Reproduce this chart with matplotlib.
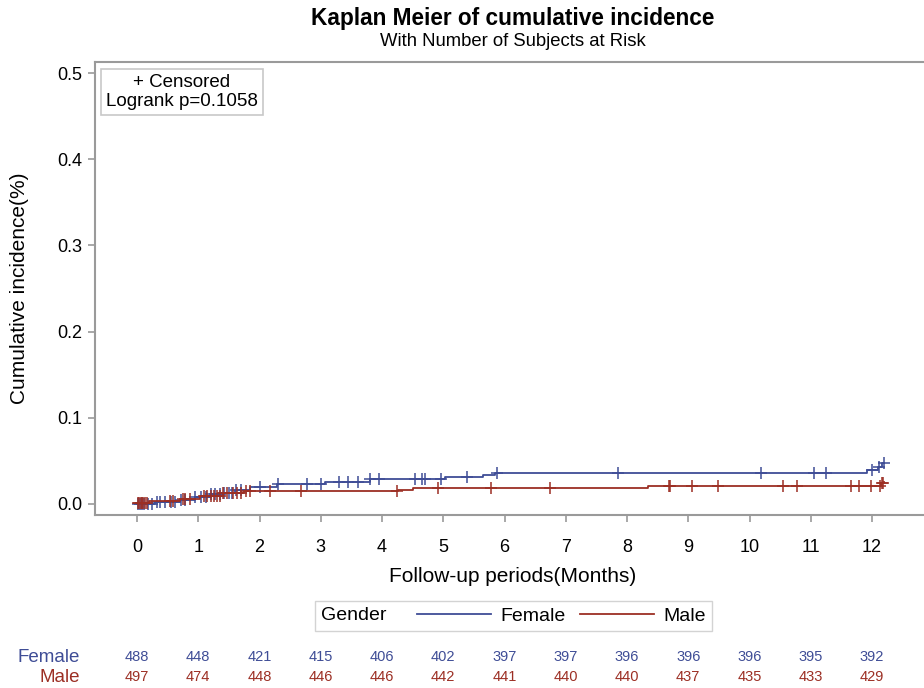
import numpy as np
import matplotlib.pyplot as plt
from matplotlib.lines import Line2D
from matplotlib.offsetbox import HPacker

plt.rcParams['font.family'] = ['Liberation Sans', 'DejaVu Sans']

# cumulative incidence step curves (time in months, value)
female_t = [0, 0.3, 0.7, 0.95, 1.2, 1.4, 1.6, 1.84, 2.29, 3.07, 3.8, 5.03, 5.65, 5.85, 11.92, 12.1, 12.17, 12.2]
female_y = [0, 0.002, 0.005, 0.008, 0.011, 0.013, 0.016, 0.0194, 0.023, 0.025, 0.0287, 0.0317, 0.034, 0.0365, 0.039, 0.043, 0.047, 0.047]
male_t = [0, 0.2, 0.7, 1.03, 1.4, 1.75, 4.26, 4.5, 8.34, 12.15, 12.19, 12.2]
male_y = [0.001, 0.003, 0.006, 0.0093, 0.013, 0.0148, 0.0165, 0.0186, 0.0213, 0.024, 0.026, 0.026]

# censored times
female_cens = [0.02, 0.05, 0.08, 0.12, 0.18, 0.25, 0.32, 0.38, 0.45, 0.55, 0.62, 0.72, 0.78,
               0.95, 1.05, 1.12, 1.2, 1.28, 1.35, 1.42, 1.5, 1.55, 1.62, 1.7,
               2.0, 2.3, 2.77, 3.0, 3.3, 3.45, 3.6, 3.8, 3.95,
               4.54, 4.65, 4.7, 4.97, 5.38, 5.87, 7.85, 10.19, 11.05, 11.25, 12.0, 12.11, 12.19]
male_cens = [0.02, 0.04, 0.06, 0.08, 0.1, 0.13, 0.16, 0.54, 0.59, 0.75, 0.78, 0.87,
             1.1, 1.15, 1.2, 1.25, 1.3, 1.35, 1.4, 1.47, 1.57, 1.63, 1.7, 1.78, 1.85,
             2.17, 2.68, 4.24, 4.91, 5.78, 6.75, 8.69, 8.71, 9.06, 9.49, 10.55, 10.78,
             11.66, 11.79, 11.99, 12.13, 12.16, 12.18]

# number at risk
risk_times = list(range(13))
female_risk = [488, 448, 421, 415, 406, 402, 397, 397, 396, 396, 396, 395, 392]
male_risk = [497, 474, 448, 446, 446, 442, 441, 440, 440, 437, 435, 433, 429]

blue = '#3f4d96'
red = '#9c2f24'
gray = '#9a9a9a'

fig = plt.figure(figsize=(9.24, 6.88), dpi=100)
ax = fig.add_axes([95 / 924, 1 - 515 / 688, 1 - 95 / 924, (515 - 62) / 688])


def at(ts, ys, c):
    i = np.searchsorted(ts, c, side='right') - 1
    return np.array(ys)[np.clip(i, 0, len(ys) - 1)]


for ts, ys, cens, col in [(female_t, female_y, female_cens, blue), (male_t, male_y, male_cens, red)]:
    ax.step(ts, ys, where='post', color=col, lw=1.3)
    ax.plot(cens, [at(ts, ys, c) for c in cens], '+', color=col, ms=8.5, mew=1.1)

ax.set_xlim(-0.686, (924 - 137) / 61.25)
ax.set_ylim(-0.0128, 0.5128)
ax.set_xticks(range(13))
ax.set_yticks(np.arange(0, 0.51, 0.1))
ax.set_yticklabels(['%.1f' % v for v in np.arange(0, 0.51, 0.1)])
ax.tick_params(labelsize=13, color=gray, length=5, width=1.2)
ax.tick_params(axis='x', pad=12)
ax.tick_params(axis='y', pad=4)
for s in ['left', 'top', 'bottom']:
    ax.spines[s].set_color(gray)
    ax.spines[s].set_linewidth(1.5)
ax.spines['right'].set_visible(False)

ax.set_xlabel('Follow-up periods(Months)', fontsize=15, va='center')
ax.set_ylabel('Cumulative incidence(%)', fontsize=15, va='center')
ax.xaxis.set_label_coords((513 - 95) / 829, -(577 - 515) / 453)
ax.yaxis.set_label_coords(-(95 - 20) / 829, 0.5)

fig.text(0.555, 1 - 18 / 688, 'Kaplan Meier of cumulative incidence', ha='center', va='center',
         fontsize=16.3, fontweight='bold')
fig.text(0.555, 1 - 42 / 688, 'With Number of Subjects at Risk', ha='center', va='center', fontsize=13.3)

ax.text((182 - 95) / 829, 1 - (92 - 62) / 453, '+ Censored\nLogrank p=0.1058', transform=ax.transAxes,
        ha='center', va='center', fontsize=13.5, multialignment='center', linespacing=1.15,
        bbox=dict(boxstyle='square,pad=0.25', fc='white', ec='#c8c8c8', lw=1.2))

handles = [Line2D([], [], color=blue, lw=1.3), Line2D([], [], color=red, lw=1.3)]
leg = fig.legend(handles, ['Female', 'Male'], title='Gender', loc='center', ncol=2,
                 bbox_to_anchor=(513.5 / 924, 1 - 616 / 688), fontsize=14, title_fontsize=14,
                 frameon=True, fancybox=False, edgecolor='#c8c8c8', handlelength=3.8,
                 columnspacing=0.7, handletextpad=0.5, borderpad=0.3)
# put the title inline with the entries
title_box = leg._legend_title_box
leg._legend_box._children = [HPacker(children=[title_box, leg._legend_handle_box], pad=0, sep=22, align='center')]

for t, n in zip(risk_times, female_risk):
    ax.annotate(str(n), (t, 0), xycoords=('data', 'figure pixels'), xytext=(0, 688 - 657),
                textcoords='offset pixels', ha='center', va='center', color=blue, fontsize=10.5,
                annotation_clip=False)
for t, n in zip(risk_times, male_risk):
    ax.annotate(str(n), (t, 0), xycoords=('data', 'figure pixels'), xytext=(0, 688 - 677),
                textcoords='offset pixels', ha='center', va='center', color=red, fontsize=10.5,
                annotation_clip=False)
fig.text(80 / 924, 1 - 657 / 688, 'Female', ha='right', va='center', color=blue, fontsize=13.5)
fig.text(80 / 924, 1 - 677 / 688, 'Male', ha='right', va='center', color=red, fontsize=13.5)

fig.savefig('out.png', dpi=100)
